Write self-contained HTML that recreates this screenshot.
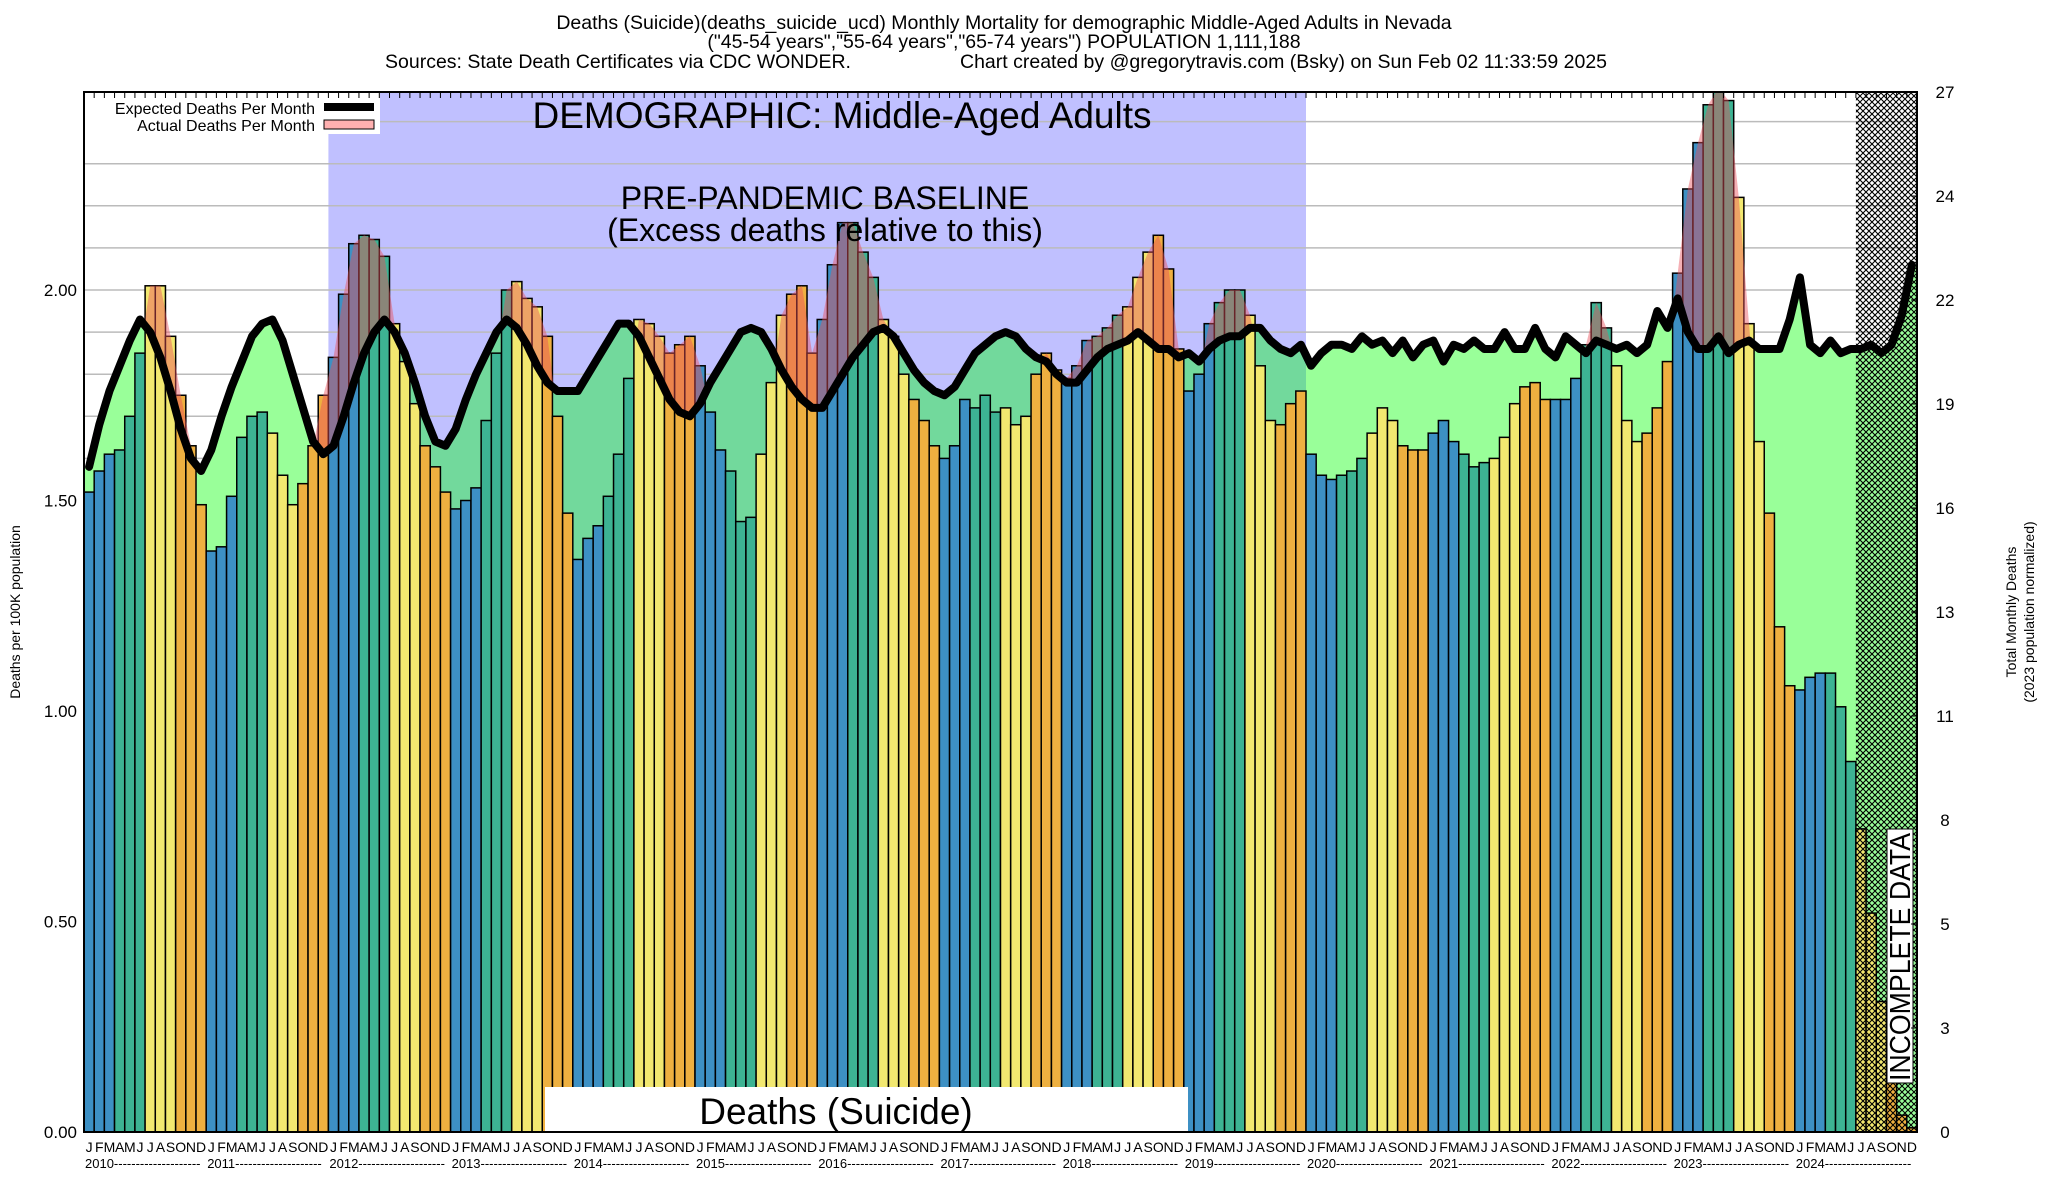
<!DOCTYPE html>
<html><head><meta charset="utf-8"><style>
html,body{margin:0;padding:0;background:#fff}
svg{display:block;font-family:"Liberation Sans",sans-serif}
</style></head><body>
<svg id="chart" width="2048" height="1200" viewBox="0 0 2048 1200" xmlns="http://www.w3.org/2000/svg">
<defs>
<pattern id="hatch" width="6" height="6" patternUnits="userSpaceOnUse">
<path d="M0,0 L6,6 M6,0 L0,6" stroke="#000" stroke-width="1.1"/>
</pattern>
<clipPath id="plotclip"><rect x="84" y="92" width="1833" height="1040"/></clipPath>
<clipPath id="aboveExp"><path id="aboveExpPath" d=""/></clipPath>
<clipPath id="baseClip"><rect id="baseClipRect" x="0" y="0" width="0" height="0"/></clipPath>
</defs>
<g font-size="19.5" fill="#000">
<text x="1004" y="29" text-anchor="middle">Deaths (Suicide)(deaths_suicide_ucd) Monthly Mortality for demographic Middle-Aged Adults in Nevada</text>
<text x="1004" y="48" text-anchor="middle">("45-54 years","55-64 years","65-74 years") POPULATION 1,111,188</text>
<text x="385" y="68">Sources: State Death Certificates via CDC WONDER.</text>
<text x="960" y="68">Chart created by @gregorytravis.com (Bsky) on Sun Feb 02 11:33:59 2025</text>
</g>
<g id="plot" clip-path="url(#plotclip)"></g>
<g id="overlay"></g>
<rect x="84" y="92" width="1833" height="1040" fill="none" stroke="#000" stroke-width="2"/>
<g id="axes"></g>
<text transform="translate(20,612) rotate(-90)" text-anchor="middle" font-size="14">Deaths per 100K population</text>
<text transform="translate(2016,612) rotate(-90)" text-anchor="middle" font-size="14">Total Monthly Deaths</text>
<text transform="translate(2034,612) rotate(-90)" text-anchor="middle" font-size="14">(2023 population normalized)</text>
</svg>
<script>
const years=[2010,2011,2012,2013,2014,2015,2016,2017,2018,2019,2020,2021,2022,2023,2024];
const monthLetters=["J","F","M","A","M","J","J","A","S","O","N","D"];
const actual=[
1.52,1.57,1.61,1.62,1.70,1.85,2.01,2.01,1.89,1.75,1.63,1.49,
1.38,1.39,1.51,1.65,1.70,1.71,1.66,1.56,1.49,1.54,1.63,1.75,
1.84,1.99,2.11,2.13,2.12,2.08,1.92,1.83,1.73,1.63,1.58,1.52,
1.48,1.50,1.53,1.69,1.85,2.00,2.02,1.98,1.96,1.89,1.70,1.47,
1.36,1.41,1.44,1.51,1.61,1.79,1.93,1.92,1.89,1.85,1.87,1.89,
1.82,1.71,1.62,1.57,1.45,1.46,1.61,1.78,1.94,1.99,2.01,1.85,
1.93,2.06,2.16,2.16,2.09,2.03,1.93,1.89,1.80,1.74,1.69,1.63,
1.60,1.63,1.74,1.72,1.75,1.71,1.72,1.68,1.70,1.80,1.85,1.81,
1.79,1.82,1.88,1.89,1.91,1.94,1.96,2.03,2.09,2.13,2.05,1.86,
1.76,1.80,1.92,1.97,2.00,2.00,1.94,1.82,1.69,1.68,1.73,1.76,
1.61,1.56,1.55,1.56,1.57,1.60,1.66,1.72,1.69,1.63,1.62,1.62,
1.66,1.69,1.64,1.61,1.58,1.59,1.60,1.65,1.73,1.77,1.78,1.74,
1.74,1.74,1.79,1.87,1.97,1.91,1.82,1.69,1.64,1.66,1.72,1.83,
2.04,2.24,2.35,2.44,2.48,2.45,2.22,1.92,1.64,1.47,1.20,1.06,
1.05,1.08,1.09,1.09,1.01,0.88,0.72,0.52,0.31,0.12,0.04,0.01];
const expected=[
1.58,1.68,1.76,1.82,1.88,1.93,1.90,1.84,1.76,1.67,1.60,1.57,
1.62,1.70,1.77,1.83,1.89,1.92,1.93,1.88,1.80,1.72,1.64,1.61,
1.63,1.70,1.78,1.85,1.90,1.93,1.90,1.85,1.78,1.70,1.64,1.63,
1.67,1.74,1.80,1.85,1.90,1.93,1.91,1.87,1.82,1.78,1.76,1.76,
1.76,1.80,1.84,1.88,1.92,1.92,1.89,1.84,1.79,1.74,1.71,1.70,
1.73,1.78,1.82,1.86,1.90,1.91,1.90,1.86,1.81,1.77,1.74,1.72,
1.72,1.76,1.80,1.84,1.87,1.90,1.91,1.89,1.85,1.81,1.78,1.76,
1.75,1.77,1.81,1.85,1.87,1.89,1.90,1.89,1.86,1.84,1.83,1.80,
1.78,1.78,1.81,1.84,1.86,1.87,1.88,1.90,1.88,1.86,1.86,1.84,
1.85,1.83,1.86,1.88,1.89,1.89,1.91,1.91,1.88,1.86,1.85,1.87,
1.82,1.85,1.87,1.87,1.86,1.89,1.87,1.88,1.85,1.88,1.84,1.87,
1.88,1.83,1.87,1.86,1.88,1.86,1.86,1.90,1.86,1.86,1.91,1.86,
1.84,1.89,1.87,1.85,1.88,1.87,1.86,1.87,1.85,1.87,1.95,1.91,
1.98,1.90,1.86,1.86,1.89,1.85,1.87,1.88,1.86,1.86,1.86,1.93,
2.03,1.87,1.85,1.88,1.85,1.86,1.86,1.87,1.85,1.87,1.94,2.06];
const leftTicks=["0.00","0.50","1.00","1.50","2.00"];
const leftTickValues=[0,0.5,1.0,1.5,2.0];
const rightTickValues=[0,2.7,5.4,8.1,10.8,13.5,16.2,18.9,21.6,24.3,27];
const rightTickLabels=["0","3","5","8","11","13","16","19","22","24","27"];

const NS="http://www.w3.org/2000/svg";
const X0=84,X1=1917,Y0=1132,Y1=92;
const N=actual.length;
const BW=(X1-X0)/N;
function xs(i){return X0+i*BW;}
function xc(i){return X0+(i+0.5)*BW;}
function ys(v){return Y0-v*421;}
function yr(d){return Y0-d*(Y0-Y1)/27;}
function mk(tag,attrs,parent){const e=document.createElementNS(NS,tag);for(const k in attrs)e.setAttribute(k,attrs[k]);parent.appendChild(e);return e;}
const plot=document.getElementById('plot');
const overlay=document.getElementById('overlay');
const axes=document.getElementById('axes');

let r=mk('rect',{x:xs(24),y:Y1,width:xs(120)-xs(24),height:Y0-Y1,fill:'#c0c0ff'},plot);


const bcr=document.getElementById('baseClipRect');
bcr.setAttribute('x',xs(24));bcr.setAttribute('y',Y1);bcr.setAttribute('width',xs(120)-xs(24));bcr.setAttribute('height',Y0-Y1);
for(let v=0.1;v<2.5;v+=0.1){
 let g=mk('line',{x1:X0,x2:X1,y1:ys(v),y2:ys(v),stroke:'#bbb','stroke-width':1.5},plot);
 
 
}
let pts=[];for(let i=0;i<N;i++)pts.push(xc(i)+','+ys(expected[i]));
const areaPts=X0+','+Y0+' '+X0+','+ys(expected[0])+' '+pts.join(' ')+' '+X1+','+ys(expected[N-1])+' '+X1+','+Y0;
let gArea=mk('polygon',{points:areaPts,fill:'#99ff99'},plot);


let gArea2=mk('polygon',{points:areaPts,fill:'#72d99c','clip-path':'url(#baseClip)'},plot);


const colors=['#3d90c4','#3d90c4','#3d90c4','#3db393','#3db393','#3db393','#f2e870','#f2e870','#f2e870','#eeb040','#eeb040','#eeb040'];
for(let i=0;i<N;i++){
 let b=mk('rect',{x:xs(i),y:ys(actual[i]),width:BW,height:Y0-ys(actual[i]),fill:colors[i%12],stroke:'#000','stroke-width':1.5},plot);
 
 
}
document.getElementById('aboveExpPath').setAttribute('d','M'+X0+','+Y1+' L'+X0+','+ys(expected[0])+' L'+pts.join(' L')+' L'+X1+','+ys(expected[N-1])+' L'+X1+','+Y1+' Z');
let apts=[];for(let i=0;i<N;i++)apts.push(xc(i)+','+ys(actual[i]));
let red=mk('polygon',{points:X0+','+Y0+' '+X0+','+ys(actual[0])+' '+apts.join(' ')+' '+X1+','+ys(actual[N-1])+' '+X1+','+Y0,fill:'#e8505a','fill-opacity':0.45,'clip-path':'url(#aboveExp)'},plot);


let h=mk('rect',{x:xs(174),y:Y1,width:X1-xs(174),height:Y0-Y1,fill:'url(#hatch)'},plot);


let line=mk('polyline',{points:pts.join(' '),fill:'none',stroke:'#000','stroke-width':8,'stroke-linejoin':'round','stroke-linecap':'round'},plot);


let wb=mk('rect',{x:545,y:1087,width:643,height:45,fill:'#fff'},overlay);


let wt=mk('text',{x:836,y:1124,'font-size':37,'text-anchor':'middle'},overlay);
wt.textContent='Deaths (Suicide)';


let dt=mk('text',{x:842,y:128,'font-size':37,'text-anchor':'middle'},overlay);
dt.textContent='DEMOGRAPHIC: Middle-Aged Adults';


let p1=mk('text',{x:825,y:209,'font-size':32,'text-anchor':'middle'},overlay);
p1.textContent='PRE-PANDEMIC BASELINE';


let p2=mk('text',{x:825,y:241,'font-size':32,'text-anchor':'middle'},overlay);
p2.textContent='(Excess deaths relative to this)';


let ib=mk('rect',{x:1887,y:829,width:26,height:254,fill:'#fff',stroke:'#000','stroke-width':1},overlay);


let it=mk('text',{transform:'translate(1910,1081) rotate(-90)','font-size':29,'textLength':248,'lengthAdjust':'spacingAndGlyphs'},overlay);
it.textContent='INCOMPLETE DATA';


let lg=mk('rect',{x:85,y:93,width:295,height:41,fill:'#fff'},overlay);


let l1=mk('text',{x:315,y:114,'font-size':16,'text-anchor':'end'},overlay);l1.textContent='Expected Deaths Per Month';


let l2=mk('text',{x:315,y:131,'font-size':16,'text-anchor':'end'},overlay);l2.textContent='Actual Deaths Per Month';


let s1=mk('rect',{x:324,y:103,width:50,height:8,fill:'#000'},overlay);


let s2=mk('rect',{x:324,y:120,width:50,height:9,fill:'#ffb0b0',stroke:'#000','stroke-width':1},overlay);


for(let k=0;k<leftTicks.length;k++){
 let t=mk('text',{x:77,y:ys(leftTickValues[k])+6,'font-size':17,'text-anchor':'end'},axes);
 t.textContent=leftTicks[k];
 
 
}
for(let k=0;k<rightTickValues.length;k++){
 let t=mk('text',{x:1945,y:yr(rightTickValues[k])+6,'font-size':17,'text-anchor':'middle'},axes);
 t.textContent=rightTickLabels[k];
 
 
 mk('line',{x1:X1-6,x2:X1,y1:yr(rightTickValues[k]),y2:yr(rightTickValues[k]),stroke:'#000','stroke-width':1},axes);
}
for(let i=0;i<N;i++){
 mk('line',{x1:xs(i),x2:xs(i),y1:Y1,y2:Y1+6,stroke:'#000','stroke-width':1},axes);
 let t=mk('text',{x:xc(i),y:1152,'font-size':14,'text-anchor':'middle'},axes);
 t.textContent=monthLetters[i%12];
 
 
}
for(let y=0;y<years.length;y++){
 let t=mk('text',{x:xs(y*12)+1,y:1168,'font-size':13},axes);
 t.textContent=years[y]+'--------------------';
 
 
}
</script>
</body></html>
